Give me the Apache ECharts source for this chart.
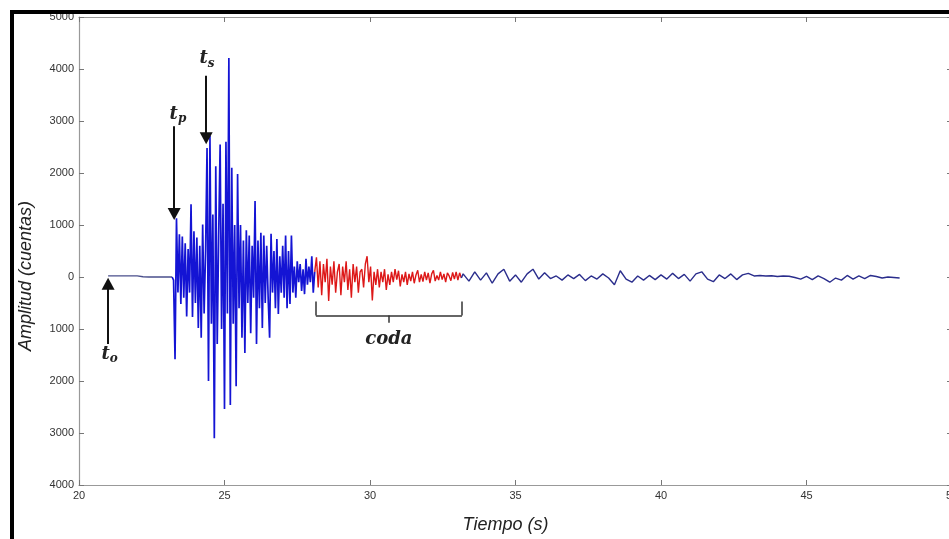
<!DOCTYPE html>
<html>
<head>
<meta charset="utf-8">
<script src="https://cdn.jsdelivr.net/npm/echarts@6/dist/echarts.min.js"></script>
<style>
  html, body {margin: 0; padding: 0; background: #fff;}
  #main {width: 949px; height: 539px;}
</style>
</head>
<body>
<div id="main"></div>
<script>
const preStart = 21.0, preStep = 0.2;
const preVals = [20, 20, 20, 20, 20, 20, 5, 0, 0, 0, 0, 0];

const mainStart = 23.2, mainStep = 0.05;
const mainVals = [
  0, -60, -1580, 1130, -300, 820, -520, 780, -400, 650,
  -760, 540, -300, 1400, -770, 880, -500, 760, -980, 600,
  -1170, 1010, -700, 500, 2480, -2000, 2710, -900, 1200, -3100,
  2130, -1290, 800, 2550, -1000, 1410, -2540, 2600, -700, 4210,
  -2460, 2100, -900, 1000, -2100, 1980, -600, 1000, -1170, 700,
  -1460, 900, -500, 800, -1080, 600, -400, 1460, -1290, 700,
  -600, 850, -980, 800, -500, 600, -400, -1170, 830, -300,
  500, -600, 730, -710, 400, -300, 600, -400, 800, -600,
  500, -520, 800, -300, 200, -400, 300, -100, 250, -270,
  150, -330, 350, -150, 200, -100, 400, -300, 100
];

const codaStart = 28.1, codaStep = 0.06;
const codaVals = [
  100, 380, -200, 300, -350, 250, -100, 350, -460, 200,
  -150, 300, -300, 100, 250, -350, 200, -100, 300, -250,
  150, -400, 250, -100, 200, -300, 100, 150, -200, 250,
  400, -100, 200, -450, 100, -150, 150, -200, 100, -100,
  150, -250, 50, -150, 100, -100, 150, -50, 120, -180,
  50, -100, 100, -150, 60, -80, 100, -120, 40, 130,
  -100, 50, -90, 100, -60, 80, -120, 60, 130, -80,
  30, -60, 100, -50, 60, -100, 80, 20, -70, 90,
  -40, 100, -60, 80, -20
];

const tailStart = 33.2, tailStep = 0.2;
const tailVals = [
  60, -80, 100, -60, 80, -120, 60, 150, -80, 40,
  -100, 60, 150, -40, 80, -30, 20, -60, 40, -30,
  50, -70, 20, -40, 60, -20, -150, 120, -40, -100,
  20, -60, 30, -50, 40, -40, 70, -30, 50, -80,
  60, 100, -40, -90, 40, -30, 60, -50, 40, 70,
  20, 30, 20, 25, 10, 20, 15, -10, -40, 10,
  -50, 20, -30, -100, -20, -60, 30, -40, 20, -30,
  30, 10, -20, 0, -10, -20
];

// annotation anchors (data coords)
const arrows = [
  {from: [21.0, -1290], to: [21.0, -130]},   // t_o
  {from: [23.27, 2900], to: [23.27, 1210]},  // t_p
  {from: [24.37, 3870], to: [24.37, 2670]}   // t_s
];
const labels = [
  {coord: [21.05, -1480], main: 't', sub: 'o'},
  {coord: [23.4, 3130], main: 't', sub: 'p'},
  {coord: [24.4, 4200], main: 't', sub: 's'},
  {coord: [30.65, -1190], main: 'coda', sub: ''}
];
const brace = {x0: 28.14, x1: 33.16, yTop: -470, yLine: -740, yTip: -880, xMid: 30.65};

function toPairs(t0, dt, vals) {
  return vals.map((v, i) => [+(t0 + i * dt).toFixed(3), v]);
}

const preData = toPairs(preStart, preStep, preVals);
const mainData = toPairs(mainStart, mainStep, mainVals);
const codaData = toPairs(codaStart, codaStep, codaVals);
const tailData = [codaData[codaData.length - 1]].concat(toPairs(tailStart, tailStep, tailVals));

const chart = echarts.init(document.getElementById('main'), null, {renderer: 'canvas'});

const tickStyle = {show: true, inside: true, length: 5, lineStyle: {color: '#777', width: 1}};
const axisLineStyle = {show: true, onZero: false, lineStyle: {color: '#999', width: 1.2}};
const labelFont = {fontFamily: 'Liberation Sans', fontSize: 11, color: '#333'};

const braceLines = [
  [{coord: [brace.x0, brace.yTop]}, {coord: [brace.x0, brace.yLine]}],
  [{coord: [brace.x0, brace.yLine]}, {coord: [brace.x1, brace.yLine]}],
  [{coord: [brace.x1, brace.yLine]}, {coord: [brace.x1, brace.yTop]}],
  [{coord: [brace.xMid, brace.yLine]}, {coord: [brace.xMid, brace.yTip]}]
];

let option = {
  animation: false,
  backgroundColor: '#fff',
  grid: {left: 79, top: 17, width: 873, height: 468, show: false, outerBoundsMode: 'none', containLabel: false},
  xAxis: [
    {
      type: 'value', min: 20, max: 50, interval: 5, position: 'bottom',
      name: 'Tiempo (s)', nameLocation: 'middle', nameGap: 31,
      nameTextStyle: {fontFamily: 'Liberation Sans', fontStyle: 'italic', fontSize: 18, color: '#222', padding: [0, 20, 0, 0]},
      axisLine: axisLineStyle, axisTick: tickStyle,
      axisLabel: Object.assign({margin: 5, showMaxLabel: true}, labelFont),
      splitLine: {show: false}
    },
    {
      type: 'value', min: 20, max: 50, interval: 5, position: 'top',
      axisLine: axisLineStyle, axisTick: tickStyle,
      axisLabel: {show: false}, splitLine: {show: false}
    }
  ],
  yAxis: [
    {
      type: 'value', min: -4000, max: 5000, interval: 1000, position: 'left',
      name: 'Amplitud (cuentas)', nameLocation: 'middle', nameGap: 44,
      nameTextStyle: {fontFamily: 'Liberation Sans', fontStyle: 'italic', fontSize: 18, color: '#222', padding: [0, 50, 0, 0]},
      axisLine: axisLineStyle, axisTick: tickStyle,
      axisLabel: Object.assign({margin: 5, formatter: v => String(Math.abs(v))}, labelFont),
      splitLine: {show: false}
    },
    {
      type: 'value', min: -4000, max: 5000, interval: 1000, position: 'right',
      axisLine: axisLineStyle, axisTick: tickStyle,
      axisLabel: {show: false}, splitLine: {show: false}
    }
  ],
  graphic: [
    {type: 'rect', left: 10, top: 10, shape: {width: 939, height: 4}, style: {fill: '#000'}, z: 100},
    {type: 'rect', left: 10, top: 10, shape: {width: 4, height: 529}, style: {fill: '#000'}, z: 100}
  ],
  series: [
    {
      name: 'pre', type: 'line', data: preData, showSymbol: false,
      lineStyle: {color: '#4a4f8c', width: 1.3}
    },
    {
      name: 'main', type: 'line', data: mainData, showSymbol: false,
      lineStyle: {color: '#1414d4', width: 1.7}
    },
    {
      name: 'coda', type: 'line', data: codaData, showSymbol: false,
      lineStyle: {color: '#dd1818', width: 1.4}
    },
    {
      name: 'tail', type: 'line', data: tailData, showSymbol: false,
      lineStyle: {color: '#2a2d8c', width: 1.4},
      markLine: {
        silent: true, animation: false,
        symbol: ['none', 'triangle'], symbolSize: [13, 12],
        lineStyle: {color: '#111', width: 2, type: 'solid'},
        label: {show: false},
        data: arrows.map(a => [{coord: a.from}, {coord: a.to}])
      },
      markPoint: {
        silent: true, animation: false,
        symbol: 'circle', symbolSize: 0,
        label: {
          show: true, position: 'inside',
          formatter: p => '{m|' + p.data.main + '}' + (p.data.sub ? '{s|' + p.data.sub + '}' : ''),
          rich: {
            m: {fontFamily: 'DejaVu Serif', fontStyle: 'italic', fontWeight: 'bold', fontSize: 18, color: '#222'},
            s: {fontFamily: 'DejaVu Serif', fontStyle: 'italic', fontWeight: 'bold', fontSize: 12, color: '#222', verticalAlign: 'bottom', padding: [10, 0, 0, 0]}
          }
        },
        data: labels.map(l => ({coord: l.coord, main: l.main, sub: l.sub}))
      }
    },
    {
      name: 'brace', type: 'line', data: [], showSymbol: false,
      markLine: {
        silent: true, animation: false, symbol: 'none',
        lineStyle: {color: '#333', width: 1.5, type: 'solid'},
        label: {show: false},
        data: braceLines
      }
    }
  ]
};

chart.setOption(option);
</script>
</body>
</html>
